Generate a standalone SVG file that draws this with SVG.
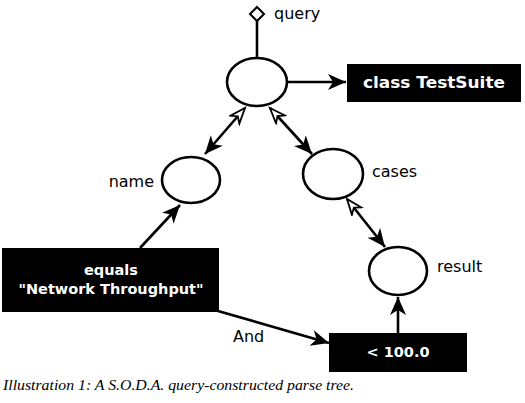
<svg xmlns="http://www.w3.org/2000/svg" width="525" height="403" viewBox="0 0 525 403">
<style>
.bg{fill:#fff}
.node ellipse{fill:#fff;stroke:#000;stroke-width:2.6}
.box rect{fill:#000}
.boxt{fill:#fff;font-family:"DejaVu Sans",sans-serif;font-weight:bold;font-size:14.5px;text-anchor:middle}
.lbl{fill:#000;font-family:"DejaVu Sans",sans-serif;font-size:16px}
.edge{fill:none;stroke:#000;stroke-width:2.6}
.cap{font-family:"Liberation Serif",serif;font-style:italic;font-size:14px;fill:#000}
</style>
<defs>
<marker id="fill" markerUnits="userSpaceOnUse" markerWidth="20" markerHeight="18" refX="18" refY="8" orient="auto-start-reverse">
<path d="M0,0 L18,8 L0,16 L5,8 z" fill="#000"/>
</marker>
<marker id="open" markerUnits="userSpaceOnUse" markerWidth="20" markerHeight="16" refX="17" refY="7" orient="auto-start-reverse">
<path d="M1.5,1 L17,7 L1.5,13 L6,7 z" fill="#fff" stroke="#000" stroke-width="1.8"/>
</marker>
<marker id="diamond" markerUnits="userSpaceOnUse" markerWidth="18" markerHeight="18" refX="9" refY="16" orient="0">
<path d="M9,2 L16,9 L9,16 L2,9 z" fill="#fff" stroke="#000" stroke-width="2"/>
</marker>
</defs>
<rect class="bg" x="0" y="0" width="525" height="403"/>
<g id="connectors">
<path class="edge" d="M257,58 L257,21" marker-end="url(#diamond)"/>
<path class="edge" d="M287,82 L346,82" marker-end="url(#fill)"/>
<path class="edge" d="M245,108 L205,154" marker-start="url(#open)" marker-end="url(#fill)"/>
<path class="edge" d="M270,108 L312,154" marker-start="url(#open)" marker-end="url(#fill)"/>
<path class="edge" d="M347,199 L385,247" marker-start="url(#open)" marker-end="url(#fill)"/>
<path class="edge" d="M140,248 L180,205" marker-end="url(#fill)"/>
<path class="edge" d="M398,333 L398,297" marker-end="url(#fill)"/>
<path class="edge" d="M218,311 L329,343" marker-end="url(#fill)"/>
</g>
<g id="query" class="node">
<ellipse cx="257" cy="82" rx="30" ry="24"/>
<text class="lbl" x="274" y="19">query</text>
</g>
<g id="name" class="node">
<ellipse cx="191" cy="180" rx="29" ry="23"/>
<text class="lbl" x="154" y="187" text-anchor="end">name</text>
</g>
<g id="cases" class="node">
<ellipse cx="333" cy="174" rx="30" ry="25"/>
<text class="lbl" x="372" y="177">cases</text>
</g>
<g id="result" class="node">
<ellipse cx="398" cy="271" rx="29" ry="24"/>
<text class="lbl" x="437" y="272">result</text>
</g>
<g id="testsuite" class="box">
<rect x="347" y="64" width="174" height="38"/>
<text class="boxt" x="434" y="88" style="font-size:16px" textLength="142" lengthAdjust="spacingAndGlyphs">class TestSuite</text>
</g>
<g id="equals" class="box">
<rect x="2" y="248" width="217" height="64"/>
<text class="boxt" x="111" y="275">equals</text>
<text class="boxt" x="111" y="294">"Network Throughput"</text>
</g>
<g id="lt100" class="box">
<rect x="329" y="333" width="138" height="39"/>
<text class="boxt" x="398" y="357">&lt; 100.0</text>
</g>
<text class="lbl" x="233" y="342">And</text>
<text class="cap" x="3" y="390" textLength="351" lengthAdjust="spacingAndGlyphs">Illustration 1: A S.O.D.A. query-constructed parse tree.</text>
</svg>
